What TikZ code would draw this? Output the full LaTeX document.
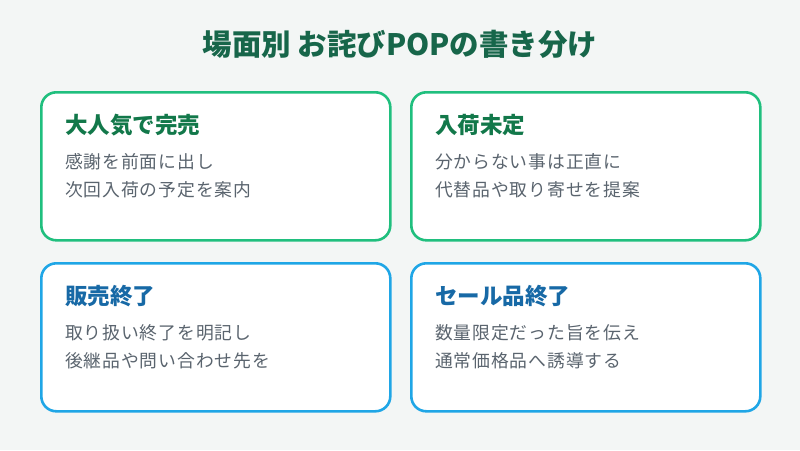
\documentclass[tikz,border=0pt]{standalone}
\usepackage{fontspec}
\setmainfont{Noto Sans CJK JP}
\newfontfamily\bodyjp[LetterSpace=5]{Noto Sans CJK JP}
\usepackage{tikz}
\usetikzlibrary{calc,positioning}
\definecolor{PageMist}{HTML}{F3F6F5}
\definecolor{TitlePine}{HTML}{17664A}
\definecolor{CardMint}{HTML}{20BF7E}
\definecolor{HeadMint}{HTML}{12784A}
\definecolor{CardSky}{HTML}{1FA6E6}
\definecolor{HeadSky}{HTML}{1769A6}
\definecolor{BodyGray}{HTML}{5A646E}

\begin{document}
\begin{tikzpicture}[
  x=1pt,y=-1pt,
  line join=round,
  card/.style={draw,line width=2.6pt,fill=white,rounded corners=15pt,
    minimum width=349pt,minimum height=148pt,inner sep=0pt,anchor=north west},
  greencard/.style={card,draw=CardMint},
  bluecard/.style={card,draw=CardSky},
  cardhead/.style={anchor=west,inner sep=0pt,font=\fontsize{22.5}{24}\selectfont\bfseries},
  cardbody/.style={anchor=north west,inner sep=0pt,align=left,text=BodyGray,
    font=\bodyjp\fontsize{17.8}{28}\selectfont}
]
  \useasboundingbox[fill=PageMist] (0,0) rectangle (800,450);

  \node[inner sep=0pt,text=TitlePine,font=\fontsize{29.5}{32}\selectfont\bfseries]
    (title) at (400,44) {場面別 お詫びPOPの書き分け};

  % upper row
  \node[greencard] (sellout) at (40,91) {};
  \node[cardhead,text=HeadMint] (selloutHead)
    at ($(sellout.north west)+(25,34)$) {大人気で完売};
  \node[cardbody] (selloutBody)
    at ($(sellout.north west)+(25,62.5)$) {感謝を前面に出し\\次回入荷の予定を案内};

  \node[greencard] (undecided) at (410,91) {};
  \node[cardhead,text=HeadMint] (undecidedHead)
    at ($(undecided.north west)+(25,34)$) {入荷未定};
  \node[cardbody] (undecidedBody)
    at ($(undecided.north west)+(25,62.5)$) {分からない事は正直に\\代替品や取り寄せを提案};

  % lower row
  \node[bluecard] (ended) at (40,262) {};
  \node[cardhead,text=HeadSky] (endedHead)
    at ($(ended.north west)+(25,34)$) {販売終了};
  \node[cardbody] (endedBody)
    at ($(ended.north west)+(25,62.5)$) {取り扱い終了を明記し\\後継品や問い合わせ先を};

  \node[bluecard] (saleEnd) at (410,262) {};
  \node[cardhead,text=HeadSky] (saleEndHead)
    at ($(saleEnd.north west)+(25,34)$) {セール品終了};
  \node[cardbody] (saleEndBody)
    at ($(saleEnd.north west)+(25,62.5)$) {数量限定だった旨を伝え\\通常価格品へ誘導する};
\end{tikzpicture}
\end{document}
